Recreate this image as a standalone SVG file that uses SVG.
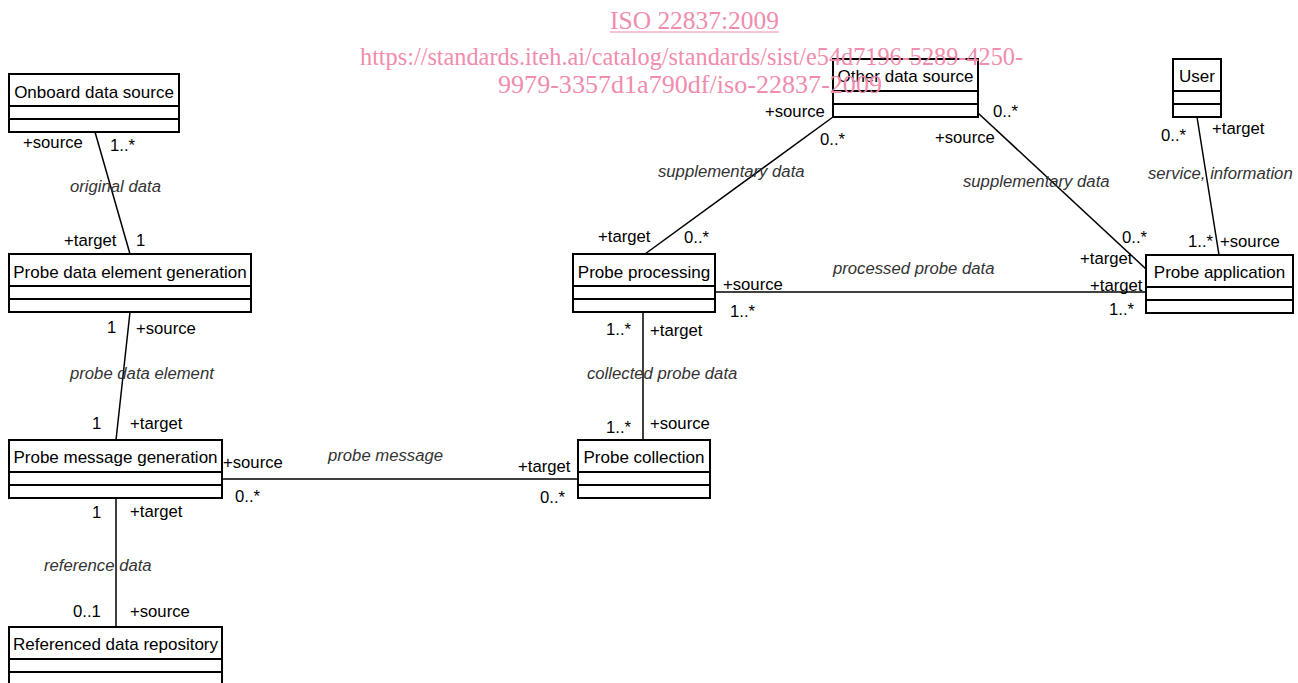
<svg xmlns="http://www.w3.org/2000/svg" width="1298" height="683" viewBox="0 0 1298 683">
<style>
.box{fill:#fff;stroke:#000;stroke-width:2}
.div{stroke:#000;stroke-width:2}
.name{font-family:"Liberation Sans",Arial,sans-serif;font-size:17px;fill:#000;text-anchor:middle}
.lbl{font-family:"Liberation Sans",Arial,sans-serif;font-size:16.7px;fill:#000}
.asc{font-family:"Liberation Sans",Arial,sans-serif;font-size:16.7px;fill:#333;font-style:italic}
.con{stroke:#000;stroke-width:1.5;fill:none}
.wm{font-family:"Liberation Serif","Times New Roman",serif;font-size:25px;fill:#f08cae;text-anchor:middle}
</style>
<rect width="1298" height="683" fill="#fff"/>
<g id="connectors">
<line class="con" x1="95" y1="132" x2="130" y2="254"/>
<line class="con" x1="130" y1="312" x2="116" y2="440"/>
<line class="con" x1="116" y1="498" x2="116" y2="627"/>
<line class="con" x1="222" y1="479" x2="578" y2="479"/>
<line class="con" x1="643" y1="312" x2="643" y2="440"/>
<line class="con" x1="715" y1="292" x2="1146" y2="292"/>
<line class="con" x1="645" y1="254" x2="833" y2="117"/>
<line class="con" x1="978" y1="113" x2="1146" y2="269"/>
<line class="con" x1="1197" y1="117" x2="1219" y2="255"/>
</g>
<g id="labels">
<text class="lbl" x="23" y="148">+source</text>
<text class="lbl" x="110" y="151">1..*</text>
<text class="asc" x="70" y="192">original data</text>
<text class="lbl" x="64" y="246">+target</text>
<text class="lbl" x="136" y="246">1</text>
<text class="lbl" x="107" y="333">1</text>
<text class="lbl" x="136" y="334">+source</text>
<text class="asc" x="70" y="379">probe data element</text>
<text class="lbl" x="92" y="429">1</text>
<text class="lbl" x="130" y="429">+target</text>
<text class="lbl" x="223" y="468">+source</text>
<text class="lbl" x="235" y="502">0..*</text>
<text class="lbl" x="92" y="518">1</text>
<text class="lbl" x="130" y="517">+target</text>
<text class="asc" x="44" y="571">reference data</text>
<text class="lbl" x="73" y="617">0..1</text>
<text class="lbl" x="130" y="617">+source</text>
<text class="asc" x="328" y="461">probe message</text>
<text class="lbl" x="518" y="472">+target</text>
<text class="lbl" x="540" y="503">0..*</text>
<text class="lbl" x="606" y="433">1..*</text>
<text class="lbl" x="650" y="429">+source</text>
<text class="asc" x="587" y="379">collected probe data</text>
<text class="lbl" x="606" y="335">1..*</text>
<text class="lbl" x="650" y="336">+target</text>
<text class="lbl" x="723" y="290">+source</text>
<text class="lbl" x="730" y="317">1..*</text>
<text class="asc" x="833" y="274">processed probe data</text>
<text class="lbl" x="1090" y="291">+target</text>
<text class="lbl" x="1109" y="315">1..*</text>
<text class="lbl" x="598" y="242">+target</text>
<text class="lbl" x="684" y="243">0..*</text>
<text class="asc" x="658" y="177">supplementary data</text>
<text class="lbl" x="765" y="117">+source</text>
<text class="lbl" x="820" y="145">0..*</text>
<text class="lbl" x="993" y="117">0..*</text>
<text class="lbl" x="935" y="143">+source</text>
<text class="asc" x="963" y="187">supplementary data</text>
<text class="lbl" x="1122" y="243">0..*</text>
<text class="lbl" x="1080" y="264">+target</text>
<text class="lbl" x="1161" y="141">0..*</text>
<text class="lbl" x="1212" y="134">+target</text>
<text class="asc" x="1148" y="179">service, information</text>
<text class="lbl" x="1188" y="247">1..*</text>
<text class="lbl" x="1220" y="247">+source</text>
</g>
<g id="onboard">
<rect class="box" x="9" y="74" width="170" height="58"/>
<line class="div" x1="9" y1="106" x2="179" y2="106"/>
<line class="div" x1="9" y1="119" x2="179" y2="119"/>
<text class="name" x="94" y="98">Onboard data source</text>
</g>
<g id="pdeg">
<rect class="box" x="9" y="254" width="242" height="58"/>
<line class="div" x1="9" y1="286" x2="251" y2="286"/>
<line class="div" x1="9" y1="299" x2="251" y2="299"/>
<text class="name" x="130" y="278">Probe data element generation</text>
</g>
<g id="pmg">
<rect class="box" x="9" y="440" width="213" height="58"/>
<line class="div" x1="9" y1="472" x2="222" y2="472"/>
<line class="div" x1="9" y1="485" x2="222" y2="485"/>
<text class="name" x="115.5" y="463">Probe message generation</text>
</g>
<g id="rdr">
<rect class="box" x="9" y="627" width="213" height="62"/>
<line class="div" x1="9" y1="659" x2="222" y2="659"/>
<line class="div" x1="9" y1="672" x2="222" y2="672"/>
<text class="name" x="115.5" y="650">Referenced data repository</text>
</g>
<g id="pp">
<rect class="box" x="573" y="254" width="142" height="58"/>
<line class="div" x1="573" y1="286" x2="715" y2="286"/>
<line class="div" x1="573" y1="299" x2="715" y2="299"/>
<text class="name" x="644" y="278">Probe processing</text>
</g>
<g id="pc">
<rect class="box" x="578" y="440" width="132" height="58"/>
<line class="div" x1="578" y1="472" x2="710" y2="472"/>
<line class="div" x1="578" y1="485" x2="710" y2="485"/>
<text class="name" x="644" y="463">Probe collection</text>
</g>
<g id="ods">
<rect class="box" x="833" y="59" width="145" height="58"/>
<line class="div" x1="833" y1="91" x2="978" y2="91"/>
<line class="div" x1="833" y1="104" x2="978" y2="104"/>
<text class="name" x="905.5" y="82">Other data source</text>
</g>
<g id="user">
<rect class="box" x="1173" y="59" width="48" height="58"/>
<line class="div" x1="1173" y1="91" x2="1221" y2="91"/>
<line class="div" x1="1173" y1="104" x2="1221" y2="104"/>
<text class="name" x="1197" y="82">User</text>
</g>
<g id="pa">
<rect class="box" x="1146" y="255" width="147" height="58"/>
<line class="div" x1="1146" y1="287" x2="1293" y2="287"/>
<line class="div" x1="1146" y1="300" x2="1293" y2="300"/>
<text class="name" x="1219.5" y="278">Probe application</text>
</g>
<g id="watermark">
<text class="wm" x="694.5" y="29" textLength="169" lengthAdjust="spacingAndGlyphs">ISO 22837:2009</text>
<line x1="610" y1="32" x2="779" y2="32" stroke="#f08cae" stroke-width="1"/>
<text class="wm" x="691.5" y="65" textLength="663" lengthAdjust="spacingAndGlyphs">https://standards.iteh.ai/catalog/standards/sist/e54d7196-5289-4250-</text>
<text class="wm" x="690" y="93" textLength="384" lengthAdjust="spacingAndGlyphs">9979-3357d1a790df/iso-22837-2009</text>
</g>
</svg>
